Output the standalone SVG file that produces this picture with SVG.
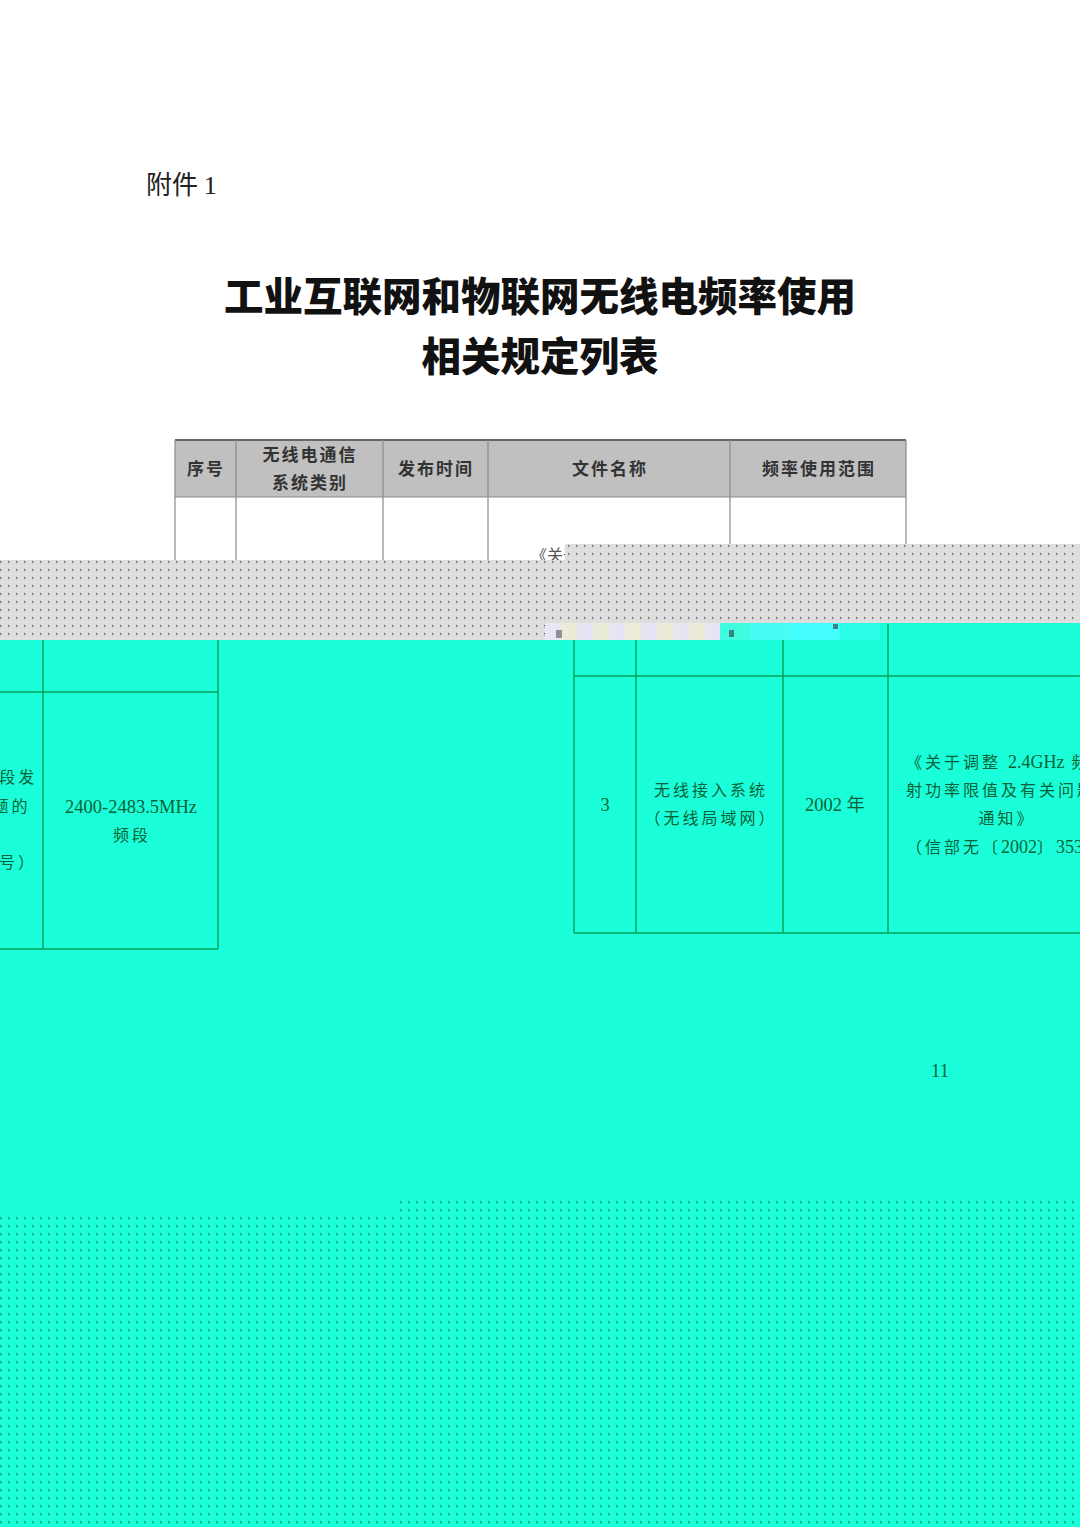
<svg xmlns="http://www.w3.org/2000/svg" width="1080" height="1527" viewBox="0 0 1080 1527">
<style>
.hd{font-family:"Noto Sans CJK SC","Liberation Sans",sans-serif;font-size:17px;font-weight:700;fill:#333;text-anchor:middle;letter-spacing:2px}
.tl{font-family:"Noto Sans CJK SC",sans-serif;font-size:39.5px;font-weight:900;fill:#111;text-anchor:middle}
.gl{stroke:#8a8a8a;stroke-width:1.2;fill:none}
.cl{stroke:#06a35a;stroke-width:1.5;fill:none}
.ct{font-family:"Liberation Serif","Noto Sans CJK SC",serif;font-size:18.5px;fill:#0a6238;text-anchor:middle}
.cz{font-family:"Liberation Serif","Noto Sans CJK SC",serif;font-size:16px;fill:#0a6238;text-anchor:middle;letter-spacing:3px}
.cn{letter-spacing:0;font-size:18px}
</style>
<defs>
<pattern id="gdot" width="8" height="8" patternUnits="userSpaceOnUse">
<rect width="8" height="8" fill="#dedede"/>
<rect x="0" y="1" width="1" height="1" fill="#3a3a3a"/>
<rect x="1" y="2" width="1" height="1" fill="#777"/>
<rect x="0" y="3" width="1" height="1" fill="#aaa"/>
</pattern>
<pattern id="cdot" width="8" height="8" patternUnits="userSpaceOnUse">
<rect width="8" height="8" fill="#1affd9"/>
<rect x="0" y="1" width="1" height="1" fill="#0a6a40"/>
<rect x="1" y="2" width="1" height="1" fill="#1f8f62"/>
<rect x="0" y="3" width="1" height="1" fill="#12b888"/>
</pattern>
</defs>
<rect width="1080" height="1527" fill="#ffffff"/>
<g id="page-top">
<text x="146" y="194" style="font-family:'Noto Sans CJK SC',sans-serif;font-size:26px;fill:#222">附件 <tspan style="font-family:'Liberation Serif',serif">1</tspan></text>
<text class="tl" x="540" y="311">工业互联网和物联网无线电频率使用</text>
<text class="tl" x="540" y="371">相关规定列表</text>
</g>
<g id="header-row">
<rect x="175" y="440" width="731" height="57" fill="#c0c0c0"/>
<line x1="175" y1="440" x2="906" y2="440" stroke="#666" stroke-width="2"/>
<line class="gl" x1="175" y1="497" x2="906" y2="497"/>
<text class="hd" x="206" y="475">序号</text>
<text class="hd" x="310" y="461">无线电通信</text>
<text class="hd" x="310" y="489">系统类别</text>
<text class="hd" x="436" y="475">发布时间</text>
<text class="hd" x="610" y="475">文件名称</text>
<text class="hd" x="819" y="475">频率使用范围</text>
</g>
<g id="table-lines">
<line class="gl" x1="175" y1="440" x2="175" y2="560"/>
<line class="gl" x1="236" y1="440" x2="236" y2="560"/>
<line class="gl" x1="383" y1="440" x2="383" y2="560"/>
<line class="gl" x1="488" y1="440" x2="488" y2="560"/>
<line class="gl" x1="730" y1="440" x2="730" y2="544"/>
<line class="gl" x1="906" y1="440" x2="906" y2="544"/>
<text x="531" y="561" style="font-family:'Noto Sans CJK SC',sans-serif;font-size:16px;fill:#555">《关于</text>
</g>
<g id="cyan-area">
<rect x="0" y="623" width="1080" height="904" fill="#1affd9"/>
</g>
<g id="gray-band">
<polygon points="0,560 565,560 565,544 1080,544 1080,623 880,623 880,640 0,640" fill="url(#gdot)"/>
<rect x="545" y="623" width="16" height="17" fill="#e6e6f4"/>
<rect x="561" y="623" width="16" height="17" fill="#ecebd8"/>
<rect x="577" y="623" width="16" height="17" fill="#e4e4f2"/>
<rect x="593" y="623" width="16" height="17" fill="#ebebd9"/>
<rect x="609" y="623" width="16" height="17" fill="#e5e5f3"/>
<rect x="625" y="623" width="16" height="17" fill="#ececd8"/>
<rect x="641" y="623" width="16" height="17" fill="#e4e4f4"/>
<rect x="657" y="623" width="16" height="17" fill="#ebebd8"/>
<rect x="673" y="623" width="16" height="17" fill="#e6e6f3"/>
<rect x="689" y="623" width="16" height="17" fill="#ecebd9"/>
<rect x="705" y="623" width="15" height="17" fill="#e5e5f4"/>
<rect x="720" y="623" width="30" height="17" fill="#3ffce0"/>
<rect x="750" y="623" width="40" height="17" fill="#48fcf4"/>
<rect x="790" y="623" width="50" height="17" fill="#44fdfd"/>
<rect x="840" y="623" width="40" height="17" fill="#2cfde6"/>
<rect x="556" y="630" width="6" height="8" fill="#555" opacity="0.6"/>
<rect x="729" y="630" width="5" height="7" fill="#333" opacity="0.6"/>
<rect x="833" y="624" width="5" height="5" fill="#333" opacity="0.6"/>
</g>
<g id="left-table">
<line class="cl" x1="43" y1="640" x2="43" y2="949"/>
<line class="cl" x1="218" y1="640" x2="218" y2="949"/>
<line class="cl" x1="0" y1="692" x2="218" y2="692"/>
<line class="cl" x1="0" y1="949" x2="218" y2="949"/>
<text class="cz" x="-74" y="783">《关于调整 <tspan class="cn">2.4GHz</tspan> 频段发</text>
<text class="cz" x="-74" y="812">射功率限值及有关问题的</text>
<text class="cz" x="-74" y="868">（信部无〔<tspan class="cn">2002</tspan>〕<tspan class="cn">353</tspan> 号）</text>
<text class="ct" x="131" y="813">2400-2483.5MHz</text>
<text class="cz" x="132" y="841">频段</text>
</g>
<g id="right-table">
<line class="cl" x1="574" y1="640" x2="574" y2="933"/>
<line class="cl" x1="636" y1="640" x2="636" y2="933"/>
<line class="cl" x1="783" y1="640" x2="783" y2="933"/>
<line class="cl" x1="888" y1="624" x2="888" y2="933"/>
<line class="cl" x1="574" y1="676" x2="1080" y2="676"/>
<line class="cl" x1="574" y1="933" x2="1080" y2="933"/>
<text class="ct" x="605" y="811">3</text>
<text class="cz" x="711" y="796">无线接入系统</text>
<text class="cz" x="711" y="824">（无线局域网）</text>
<text class="ct" x="835" y="811">2002 年</text>
<text class="cz" x="906" y="768" style="text-anchor:start">《关于调整 <tspan class="cn">2.4GHz</tspan> 频段发</text>
<text class="cz" x="906" y="796" style="text-anchor:start">射功率限值及有关问题的</text>
<text class="cz" x="1007" y="824">通知》</text>
<text class="cz" x="906" y="853" style="text-anchor:start">（信部无〔<tspan class="cn">2002</tspan>〕<tspan class="cn">353</tspan> 号）</text>
</g>
<g id="page-number">
<text class="ct" x="940" y="1077">11</text>
</g>
<g id="bottom-dots">
<polygon points="0,1216 400,1216 400,1200 1080,1200 1080,1527 0,1527" fill="url(#cdot)"/>
</g>
</svg>
